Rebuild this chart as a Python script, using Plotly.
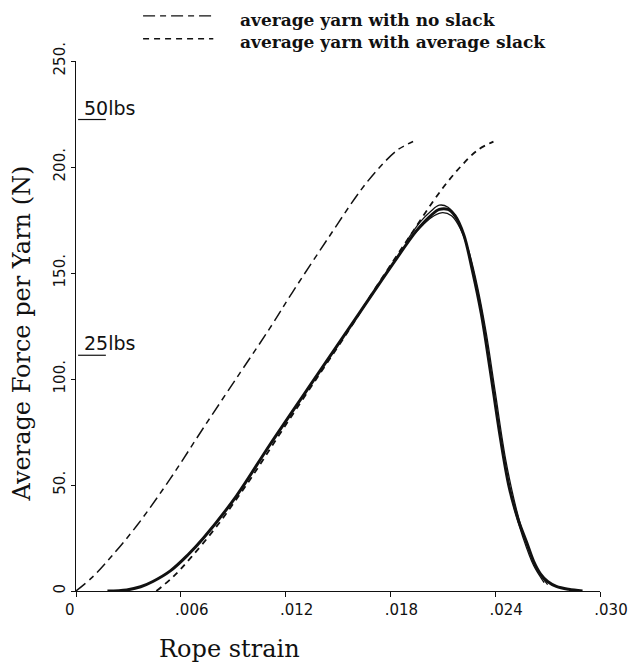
import plotly.graph_objects as go

# --- data ---
noslack_strain = [0, 0.0010, 0.0020, 0.0035, 0.0054, 0.0073, 0.0094, 0.0111, 0.0124, 0.0144, 0.0163, 0.0174, 0.0184, 0.0193]
noslack_force = [0, 7, 16, 31, 53, 77, 103, 124, 141, 166, 189, 200, 208, 212]

slack_strain = [0.0046, 0.0056, 0.0066, 0.0081, 0.0100, 0.0119, 0.0140, 0.0157, 0.0170, 0.0190, 0.0209, 0.0220, 0.0230, 0.0239]
slack_force = [0, 7, 16, 31, 53, 77, 103, 124, 141, 166, 189, 200, 208, 212]

rope_strain = [0.0018, 0.0029, 0.0037, 0.0044, 0.0054, 0.0064, 0.0073, 0.0092, 0.0111, 0.0139, 0.0163, 0.0182,
               0.0195, 0.0203, 0.0208, 0.0213, 0.0217, 0.0222, 0.0227, 0.0232, 0.0237, 0.0243, 0.0248,
               0.0253, 0.0258, 0.0262, 0.0266, 0.0270, 0.0275, 0.0282, 0.0290]
rope_force = [0, 0.5, 2, 4.5, 9.5, 17, 25, 45, 69, 103, 132, 155,
              170, 177, 180, 180, 177, 168, 151, 131, 105, 72, 49,
              34, 23, 14, 8, 4.5, 2.2, 0.8, 0]

rope2_strain = [0.0190, 0.0197, 0.0203, 0.0208, 0.0213, 0.0218, 0.0223, 0.0228, 0.0233, 0.0238, 0.0244, 0.0250, 0.0256, 0.0262, 0.0268]
rope2_force = [166, 174, 179, 182, 181, 176, 165, 148, 127, 100, 67, 42, 25, 12, 4]

rope3_strain = [0.0192, 0.0199, 0.0205, 0.0210, 0.0215, 0.0220, 0.0225, 0.0230, 0.0235, 0.0240, 0.0246, 0.0252, 0.0258, 0.0264, 0.0270]
rope3_force = [167, 173, 177, 178.5, 177, 171, 160, 143, 121, 94, 62, 39, 22, 10, 3]

x_tickvals = [0, 0.006, 0.012, 0.018, 0.024, 0.030]
x_ticktext = ["", ".006", ".012", ".018", ".024", ".030"]
y_tickvals = [0, 50, 100, 150, 200, 250]
y_ticktext = ["0", "50.", "100.", "150.", "200.", "250."]

lbs_values = [222.4, 111.2]
lbs_labels = ["50lbs", "25lbs"]

legend_names = ["average yarn with no slack", "average yarn with average slack"]

INK = "#111111"
SERIF = "DejaVu Serif"
SANS = "DejaVu Sans"
DASH_NOSLACK = "12px,5px,6px,5px"
DASH_SLACK = "6px,5px"

fig = go.Figure()
fig.add_trace(go.Scatter(x=noslack_strain, y=noslack_force, mode="lines",
                         line=dict(color=INK, width=1.5, dash=DASH_NOSLACK, shape="spline", smoothing=1.0),
                         showlegend=False))
fig.add_trace(go.Scatter(x=slack_strain, y=slack_force, mode="lines",
                         line=dict(color=INK, width=1.8, dash=DASH_SLACK, shape="spline", smoothing=1.0),
                         showlegend=False))
fig.add_trace(go.Scatter(x=rope2_strain, y=rope2_force, mode="lines",
                         line=dict(color=INK, width=1.3, shape="spline", smoothing=1.0), showlegend=False))
fig.add_trace(go.Scatter(x=rope3_strain, y=rope3_force, mode="lines",
                         line=dict(color=INK, width=1.3, shape="spline", smoothing=1.0), showlegend=False))
fig.add_trace(go.Scatter(x=rope_strain, y=rope_force, mode="lines",
                         line=dict(color=INK, width=3, shape="spline", smoothing=1.0), showlegend=False))

# lbs reference marks
for v, lab in zip(lbs_values, lbs_labels):
    fig.add_shape(type="line", xref="paper", yref="y", x0=0.004, x1=0.057, y0=v, y1=v,
                  line=dict(color=INK, width=1.2))
    fig.add_annotation(xref="paper", yref="y", x=0.012, y=v, text=lab, showarrow=False,
                       xanchor="left", yanchor="bottom", yshift=-1,
                       font=dict(family=SANS, size=19, color=INK))

# legend (drawn manually)
leg_y_line = [1.085, 1.042]
leg_y_text = [1.078, 1.036]
leg_dash = [DASH_NOSLACK, DASH_SLACK]
for yl, yt, name, dsh in zip(leg_y_line, leg_y_text, legend_names, leg_dash):
    fig.add_shape(type="line", xref="paper", yref="paper", x0=0.128, x1=0.262, y0=yl, y1=yl,
                  line=dict(color=INK, width=1.3, dash=dsh))
    fig.add_annotation(xref="paper", yref="paper", x=0.31, y=yt, text=name, showarrow=False,
                       xanchor="left", yanchor="middle",
                       font=dict(family=SERIF, size=17, color=INK, weight="bold"))

# axis titles as annotations
fig.add_annotation(xref="paper", yref="paper", x=0.154, y=-0.109, text="Rope strain", showarrow=False,
                   xanchor="left", yanchor="middle", font=dict(family=SERIF, size=24, color=INK))
fig.add_annotation(xref="paper", yref="paper", x=-0.103, y=0.486, text="Average Force per Yarn (N)",
                   showarrow=False, textangle=-90, xanchor="center", yanchor="middle",
                   font=dict(family=SERIF, size=24, color=INK))
# x-axis zero label
fig.add_annotation(xref="x", yref="paper", x=0, y=0, text="0", showarrow=False, xanchor="center",
                   yanchor="top", xshift=-6, yshift=-8, font=dict(family=SANS, size=15, color=INK))

fig.update_xaxes(range=[0, 0.030], tickvals=x_tickvals, ticktext=x_ticktext, showgrid=False, zeroline=False,
                 showline=True, linecolor=INK, linewidth=1.4, ticks="outside", ticklen=5, tickcolor=INK,
                 tickwidth=1, ticklabelshift=11, automargin=False,
                 tickfont=dict(family=SANS, size=15, color=INK))
fig.update_yaxes(range=[0, 250], tickvals=y_tickvals, ticktext=y_ticktext, showgrid=False, zeroline=False,
                 showline=True, linecolor=INK, linewidth=1.4, ticks="outside", ticklen=4, tickcolor=INK,
                 tickwidth=1, tickangle=-90, automargin=False,
                 tickfont=dict(family=SANS, size=15, color=INK))

# page body has an 8px default margin, so the figure is sized/offset to compensate
fig.update_layout(width=628, height=655, margin=dict(l=68, r=36, t=53, b=72, autoexpand=False),
                  plot_bgcolor="white", paper_bgcolor="white", showlegend=False)

fig.write_html("out.html")
